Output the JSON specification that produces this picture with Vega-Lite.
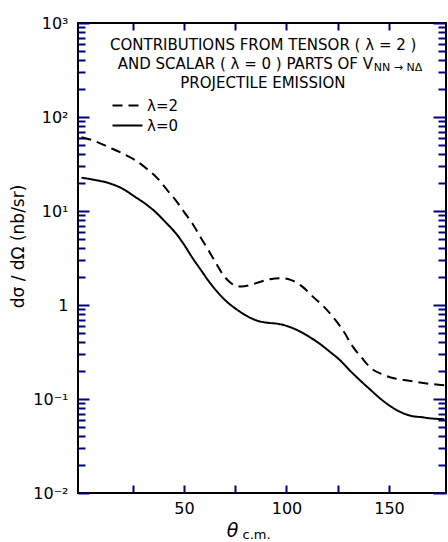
{
  "$schema": "https://vega.github.io/schema/vega-lite/v6.json",
  "width": 368,
  "height": 470,
  "autosize": {"type": "none"},
  "padding": {"left": 78, "top": 23, "right": 2, "bottom": 49},
  "background": "white",
  "config": {
    "view": {"stroke": "black", "strokeWidth": 2},
    "axis": {"grid": false, "domain": false, "labelColor": "black", "labelFont": "DejaVu Sans", "labelFontSize": 16, "titleFont": "DejaVu Sans", "titleColor": "black", "titleFontWeight": "normal", "labelFlush": false, "labelOverlap": false},
    "text": {"font": "DejaVu Sans", "fontSize": 15, "color": "black"}
  },
  "resolve": {"axis": {"x": "independent", "y": "independent"}},
  "layer": [
    {
      "data": {"values": [
        {"theta": 0, "value": 61, "series": "λ=2"},
        {"theta": 6, "value": 56, "series": "λ=2"},
        {"theta": 13, "value": 48, "series": "λ=2"},
        {"theta": 20, "value": 41, "series": "λ=2"},
        {"theta": 26, "value": 35, "series": "λ=2"},
        {"theta": 32, "value": 28, "series": "λ=2"},
        {"theta": 37, "value": 22.4, "series": "λ=2"},
        {"theta": 42, "value": 16.5, "series": "λ=2"},
        {"theta": 46, "value": 13, "series": "λ=2"},
        {"theta": 50, "value": 9.8, "series": "λ=2"},
        {"theta": 54, "value": 7.4, "series": "λ=2"},
        {"theta": 58, "value": 5.3, "series": "λ=2"},
        {"theta": 62, "value": 3.8, "series": "λ=2"},
        {"theta": 66, "value": 2.7, "series": "λ=2"},
        {"theta": 69, "value": 2.1, "series": "λ=2"},
        {"theta": 72, "value": 1.78, "series": "λ=2"},
        {"theta": 75, "value": 1.61, "series": "λ=2"},
        {"theta": 78, "value": 1.57, "series": "λ=2"},
        {"theta": 82, "value": 1.62, "series": "λ=2"},
        {"theta": 87, "value": 1.76, "series": "λ=2"},
        {"theta": 92, "value": 1.88, "series": "λ=2"},
        {"theta": 97, "value": 1.93, "series": "λ=2"},
        {"theta": 102, "value": 1.85, "series": "λ=2"},
        {"theta": 108, "value": 1.55, "series": "λ=2"},
        {"theta": 113, "value": 1.22, "series": "λ=2"},
        {"theta": 118, "value": 0.97, "series": "λ=2"},
        {"theta": 123, "value": 0.73, "series": "λ=2"},
        {"theta": 128, "value": 0.52, "series": "λ=2"},
        {"theta": 132, "value": 0.37, "series": "λ=2"},
        {"theta": 137, "value": 0.27, "series": "λ=2"},
        {"theta": 141, "value": 0.215, "series": "λ=2"},
        {"theta": 147, "value": 0.182, "series": "λ=2"},
        {"theta": 153, "value": 0.165, "series": "λ=2"},
        {"theta": 159, "value": 0.157, "series": "λ=2"},
        {"theta": 165, "value": 0.15, "series": "λ=2"},
        {"theta": 171, "value": 0.144, "series": "λ=2"},
        {"theta": 177, "value": 0.14, "series": "λ=2"},
        {"theta": 0, "value": 22.6, "series": "λ=0"},
        {"theta": 6, "value": 21.5, "series": "λ=0"},
        {"theta": 13, "value": 19.9, "series": "λ=0"},
        {"theta": 20, "value": 17.3, "series": "λ=0"},
        {"theta": 26, "value": 14.2, "series": "λ=0"},
        {"theta": 31, "value": 12, "series": "λ=0"},
        {"theta": 36, "value": 9.8, "series": "λ=0"},
        {"theta": 41, "value": 7.6, "series": "λ=0"},
        {"theta": 46, "value": 5.8, "series": "λ=0"},
        {"theta": 50, "value": 4.4, "series": "λ=0"},
        {"theta": 54, "value": 3.2, "series": "λ=0"},
        {"theta": 58, "value": 2.4, "series": "λ=0"},
        {"theta": 62, "value": 1.8, "series": "λ=0"},
        {"theta": 66, "value": 1.4, "series": "λ=0"},
        {"theta": 70, "value": 1.13, "series": "λ=0"},
        {"theta": 75, "value": 0.92, "series": "λ=0"},
        {"theta": 80, "value": 0.78, "series": "λ=0"},
        {"theta": 85, "value": 0.69, "series": "λ=0"},
        {"theta": 90, "value": 0.65, "series": "λ=0"},
        {"theta": 96, "value": 0.63, "series": "λ=0"},
        {"theta": 101, "value": 0.59, "series": "λ=0"},
        {"theta": 106, "value": 0.53, "series": "λ=0"},
        {"theta": 111, "value": 0.46, "series": "λ=0"},
        {"theta": 116, "value": 0.39, "series": "λ=0"},
        {"theta": 121, "value": 0.32, "series": "λ=0"},
        {"theta": 126, "value": 0.26, "series": "λ=0"},
        {"theta": 131, "value": 0.2, "series": "λ=0"},
        {"theta": 136, "value": 0.157, "series": "λ=0"},
        {"theta": 141, "value": 0.125, "series": "λ=0"},
        {"theta": 146, "value": 0.1, "series": "λ=0"},
        {"theta": 151, "value": 0.083, "series": "λ=0"},
        {"theta": 156, "value": 0.072, "series": "λ=0"},
        {"theta": 161, "value": 0.066, "series": "λ=0"},
        {"theta": 166, "value": 0.064, "series": "λ=0"},
        {"theta": 171, "value": 0.062, "series": "λ=0"},
        {"theta": 177, "value": 0.061, "series": "λ=0"}
      ]},
      "mark": {"type": "line", "color": "black", "strokeWidth": 2, "interpolate": "monotone"},
      "encoding": {
        "x": {"field": "theta", "type": "quantitative",
          "scale": {"domain": [-1.7, 177.8], "nice": false, "zero": false},
          "axis": {"orient": "bottom", "offset": -8, "values": [25, 50, 75, 100, 125, 150], "labelExpr": "datum.value % 50 == 0 ? datum.label : ''", "ticks": true, "tickColor": "navy", "tickWidth": 2, "tickSize": 8, "labelPadding": 7, "title": "θ", "titleFontSize": 19, "titleFontStyle": "italic", "titleX": 154, "titleY": 51, "titleAlign": "center", "titleBaseline": "alphabetic"}},
        "y": {"field": "value", "type": "quantitative",
          "scale": {"type": "log", "domain": [0.01, 1000], "nice": false},
          "axis": {"orient": "left", "offset": -11, "values": [0.01, 0.1, 1, 10, 100, 1000], "labelExpr": "datum.value < 0.05 ? '10⁻²' : datum.value < 0.5 ? '10⁻¹' : datum.value < 5 ? '1' : datum.value < 50 ? '10¹' : datum.value < 500 ? '10²' : '10³'", "ticks": true, "tickColor": "navy", "tickWidth": 2, "tickSize": 11, "labelPadding": 10, "title": "dσ / dΩ (nb/sr)", "titleFontSize": 17, "titleX": -71, "titleY": 223, "titleAngle": -90, "titleAlign": "center", "titleBaseline": "middle"}},
        "strokeDash": {"field": "series", "type": "nominal",
          "scale": {"domain": ["λ=2", "λ=0"], "range": [[10, 6], [1, 0]]},
          "legend": {"orient": "none", "legendX": 42, "legendY": 75, "title": null, "symbolType": "M-3,0H3", "symbolSize": 100, "symbolStrokeWidth": 2, "symbolStrokeColor": "black", "labelFontSize": 15, "labelFont": "DejaVu Sans", "labelColor": "black", "rowPadding": 4, "labelOffset": 12, "padding": 0}}
      }
    },
    {
      "data": {"values": [{}]},
      "mark": {"type": "text", "align": "left", "baseline": "middle", "text": "CONTRIBUTIONS FROM TENSOR ( λ = 2 )"},
      "encoding": {
        "x": {"datum": 13.9, "type": "quantitative",
          "scale": {"domain": [-1.7, 177.8], "nice": false, "zero": false},
          "axis": {"orient": "top", "offset": -7, "values": [25, 50, 75, 100, 125, 150], "labels": false, "ticks": true, "tickColor": "navy", "tickWidth": 2, "tickSize": 7, "title": "c.m.", "titleFontSize": 13, "titleX": 164, "titleY": 508, "titleAlign": "left", "titleBaseline": "alphabetic"}},
        "y": {"datum": 583, "type": "quantitative",
          "scale": {"type": "log", "domain": [0.01, 1000], "nice": false},
          "axis": {"orient": "left", "offset": -7, "values": [0.02, 0.03, 0.04, 0.05, 0.06, 0.07, 0.08, 0.09, 0.2, 0.3, 0.4, 0.5, 0.6, 0.7, 0.8, 0.9, 2, 3, 4, 5, 6, 7, 8, 9, 20, 30, 40, 50, 60, 70, 80, 90, 200, 300, 400, 500, 600, 700, 800, 900], "labels": false, "ticks": true, "tickColor": "navy", "tickWidth": 2, "tickSize": 7, "title": null}}
      }
    },
    {
      "data": {"values": [{}]},
      "mark": {"type": "text", "align": "right", "baseline": "middle", "text": "AND SCALAR ( λ = 0 ) PARTS OF V"},
      "encoding": {
        "x": {"datum": 142.2, "type": "quantitative", "axis": null},
        "y": {"datum": 366, "type": "quantitative",
          "axis": {"orient": "right", "offset": -13, "values": [0.01, 0.1, 1, 10, 100, 1000], "labels": false, "ticks": true, "tickColor": "navy", "tickWidth": 2, "tickSize": 13, "title": null}}
      }
    },
    {
      "data": {"values": [{}]},
      "mark": {"type": "text", "align": "center", "baseline": "middle", "text": "PROJECTILE EMISSION"},
      "encoding": {
        "x": {"datum": 88.5, "type": "quantitative", "axis": null},
        "y": {"datum": 230, "type": "quantitative",
          "axis": {"orient": "right", "offset": -8, "values": [0.02, 0.03, 0.04, 0.05, 0.06, 0.07, 0.08, 0.09, 0.2, 0.3, 0.4, 0.5, 0.6, 0.7, 0.8, 0.9, 2, 3, 4, 5, 6, 7, 8, 9, 20, 30, 40, 50, 60, 70, 80, 90, 200, 300, 400, 500, 600, 700, 800, 900], "labels": false, "ticks": true, "tickColor": "navy", "tickWidth": 2, "tickSize": 8, "title": null}}
      }
    },
    {
      "data": {"values": [{}]},
      "mark": {"type": "text", "align": "left", "baseline": "middle", "fontSize": 11, "text": "NN → NΔ"},
      "encoding": {
        "x": {"datum": 142.6, "type": "quantitative", "axis": null},
        "y": {"datum": 332, "type": "quantitative", "axis": null}
      }
    }
  ]
}
